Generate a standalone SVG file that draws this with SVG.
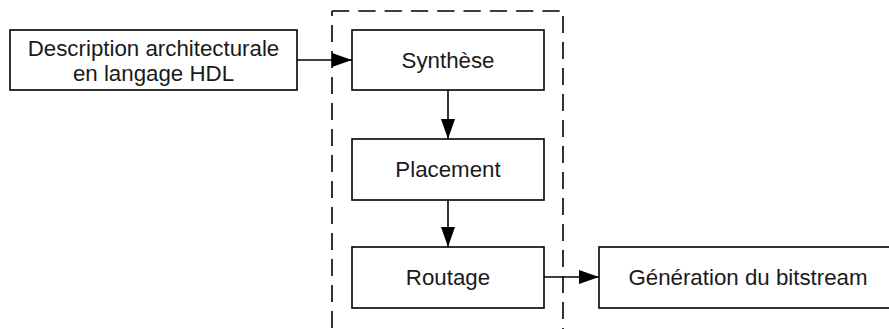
<svg xmlns="http://www.w3.org/2000/svg" width="889" height="329" viewBox="0 0 889 329">
<defs>
<style>
.box{fill:#fff;stroke:#000;stroke-width:1.6}
.t{font-family:"Liberation Sans",Arial,sans-serif;font-size:22.3px;fill:#1a1a1a;text-anchor:middle}
.c{stroke:#000;stroke-width:1.6;fill:none}
.d{stroke:#000;stroke-width:1.6;fill:none;stroke-dasharray:17 9}
</style>
<marker id="ah" viewBox="0 0 20 14" refX="20" refY="7" markerWidth="20" markerHeight="14" markerUnits="userSpaceOnUse" orient="auto">
<path d="M0,0 L20,7 L0,14 Z" fill="#000"/>
</marker>
</defs>
<g id="frame">
<line class="d" x1="332" y1="11" x2="563" y2="11" style="stroke-dasharray:17.3 9"/>
<line class="d" x1="332" y1="11" x2="332" y2="329" stroke-dashoffset="12"/>
<line class="d" x1="563" y1="11" x2="563" y2="329" stroke-dashoffset="21"/>
</g>
<g id="n-desc">
<rect class="box" x="10" y="30" width="287" height="60"/>
<text class="t" x="153.5" y="56">Description architecturale</text>
<text class="t" x="153.5" y="81">en langage HDL</text>
</g>
<g id="n-synth">
<rect class="box" x="352" y="30" width="192" height="60"/>
<text class="t" x="448" y="68">Synthèse</text>
</g>
<g id="n-place">
<rect class="box" x="352" y="139" width="192" height="61"/>
<text class="t" x="448" y="177">Placement</text>
</g>
<g id="n-route">
<rect class="box" x="352" y="247" width="192" height="61"/>
<text class="t" x="448" y="285">Routage</text>
</g>
<g id="n-gen">
<rect class="box" x="599" y="247" width="300" height="61"/>
<text class="t" x="748" y="285">Génération du bitstream</text>
</g>
<g id="connectors">
<line class="c" x1="297" y1="60" x2="352" y2="60" marker-end="url(#ah)"/>
<line class="c" x1="448" y1="90" x2="448" y2="139" marker-end="url(#ah)"/>
<line class="c" x1="448" y1="200" x2="448" y2="247" marker-end="url(#ah)"/>
<line class="c" x1="544" y1="277" x2="599" y2="277" marker-end="url(#ah)"/>
</g>
</svg>
